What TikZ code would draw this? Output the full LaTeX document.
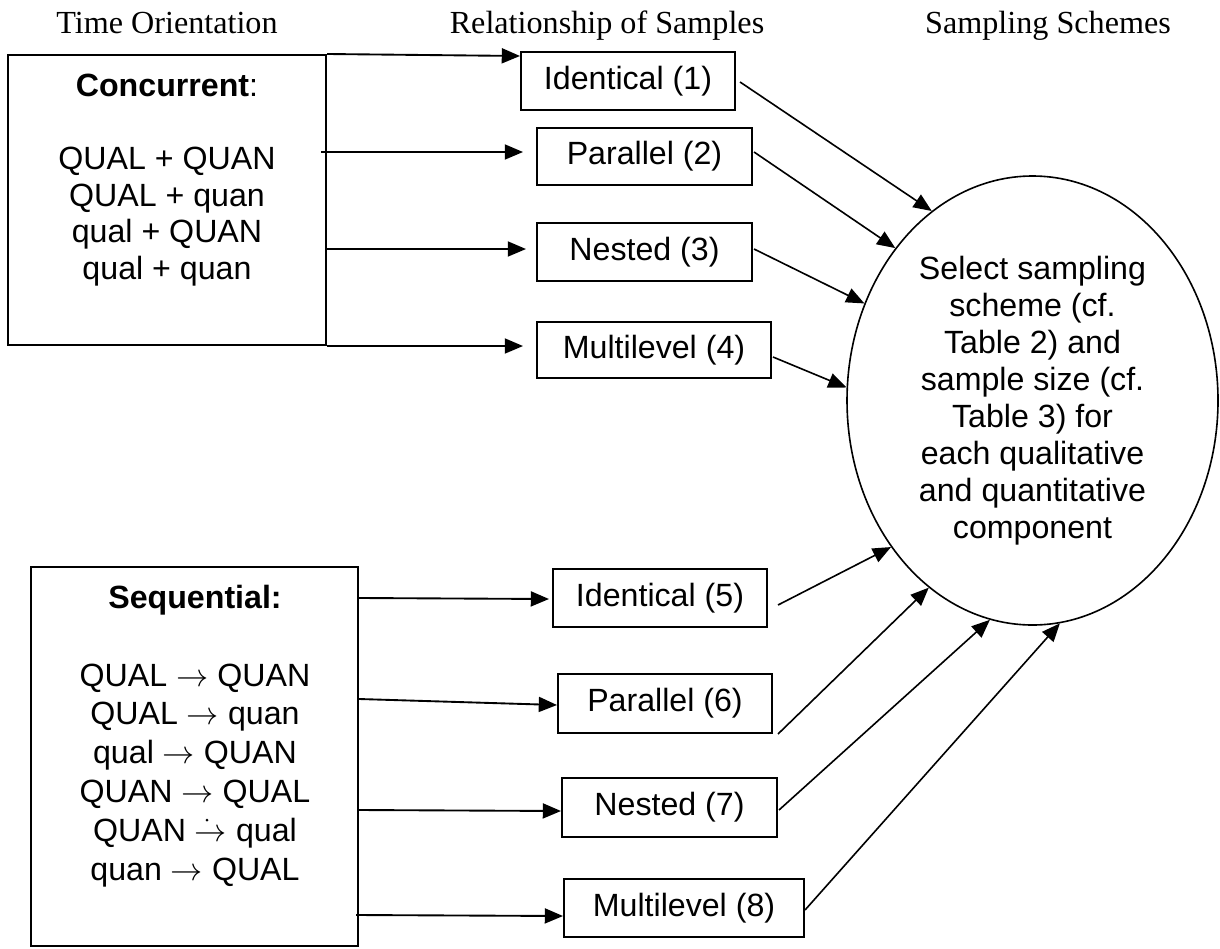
\documentclass[tikz,border=0pt]{standalone}
\usepackage{fontspec}
\setmainfont{Liberation Serif}
\newfontfamily\arialf{Liberation Sans}
\usetikzlibrary{arrows.meta,shapes.geometric,calc}
\newlength\pxu
\setlength\pxu{0.3731pt}
\begin{document}
\begin{tikzpicture}[x=0.3731pt,y=-0.3731pt,
  bx/.style={draw, line width=0.75pt, rectangle, inner sep=0pt,
    font=\arialf\fontsize{12}{13.8}\selectfont},
  txt/.style={inner sep=0pt, align=center},
  arr/.style={line width=0.7pt, -{Triangle[length=6.8pt,width=5.6pt]}},
  lnk/.style={line width=0.6pt, -{Triangle[length=6.8pt,width=5.6pt]}},
  hdr/.style={font=\fontsize{12}{14}\selectfont, anchor=base, inner sep=0pt}]
\useasboundingbox (0,0) rectangle (1220,948);

% headers
\node[hdr] (h1) at (167,33) {Time Orientation};
\node[hdr] (h2) at (607,33) {Relationship of Samples};
\node[hdr] (h3) at (1048,33) {Sampling Schemes};

% big boxes
\node[bx, minimum width=318*\pxu, minimum height=290*\pxu] (conc) at (167,200) {};
\node[txt, font=\arialf\fontsize{12}{13.7}\selectfont] (conctext) at (167,180)
  {\textbf{Concurrent}:\\[13.7pt]QUAL + QUAN\\QUAL + quan\\qual + QUAN\\qual + quan};
\node[bx, minimum width=327*\pxu, minimum height=379*\pxu] (seq) at (194.5,756.5) {};
\node[txt, font=\arialf\fontsize{12}{14.5}\selectfont] (seqtext) at (195,736)
  {\textbf{Sequential:}\\[14.5pt]QUAL $\rightarrow$ QUAN\\QUAL $\rightarrow$ quan\\qual $\rightarrow$ QUAN\\QUAN $\rightarrow$ QUAL\\QUAN $\rightarrow$ qual\\quan $\rightarrow$ QUAL};
\fill (207,820) circle[radius=1.5];

% relationship boxes
\node[bx, minimum width=214*\pxu, minimum height=58*\pxu] (id1) at (628,81) {Identical (1)};
\node[bx, minimum width=215*\pxu, minimum height=57*\pxu] (par2) at (644.5,156.5) {Parallel (2)};
\node[bx, minimum width=215*\pxu, minimum height=58*\pxu] (nes3) at (644.5,252) {Nested (3)};
\node[bx, minimum width=234*\pxu, minimum height=56*\pxu] (mul4) at (654,350) {Multilevel (4)};
\node[bx, minimum width=214*\pxu, minimum height=58*\pxu] (id5) at (660,598) {Identical (5)};
\node[bx, minimum width=214*\pxu, minimum height=59*\pxu] (par6) at (665,703.5) {Parallel (6)};
\node[bx, minimum width=215*\pxu, minimum height=59*\pxu] (nes7) at (669.5,807.5) {Nested (7)};
\node[bx, minimum width=240*\pxu, minimum height=58*\pxu] (mul8) at (684,908) {Multilevel (8)};

% ellipse
\node[ellipse, draw, line width=0.6pt, inner sep=0pt, align=center,
  minimum width=371*\pxu, minimum height=449*\pxu,
  font=\arialf\fontsize{12}{13.8}\selectfont] (ell) at (1032.5,400.5)
  {Select sampling\\scheme (cf.\\Table 2) and\\sample size (cf.\\Table 3) for\\each qualitative\\and quantitative\\component};

% connectors from time orientation boxes
\draw[arr] (conc.north east) -- ($(id1.north west)+(0,5)$);
\draw[arr] ($(conc.east)+(-6,-48)$) -- ($(par2.west)+(-13,-4.5)$);
\draw[arr] ($(conc.east)+(0,49)$) -- ($(nes3.west)+(-10,-3)$);
\draw[arr] (conc.south east) -- ($(mul4.west)+(-13,-4)$);
\draw[arr] ($(seq.north east)+(0,32)$) -- ($(id5.west)+(-3,1)$);
\draw[arr] ($(seq.north east)+(0,133)$) -- ($(par6.west)+(0,1.5)$);
\draw[arr] ($(seq.north east)+(-1,244)$) -- ($(nes7.west)+(0,3.5)$);
\draw[arr] ($(seq.north east)+(-3,349)$) -- ($(mul8.west)+(0,8)$);

% connectors to the ellipse
\draw[lnk] ($(id1.east)+(4,1)$) -- (ell.118.3);
\draw[lnk] ($(par2.east)+(1,-4.5)$) -- (ell.132.6);
\draw[lnk] ($(nes3.east)+(1,-3)$) -- (ell.150.2);
\draw[lnk] ($(mul4.east)+(1,7)$) -- (ell.176.8);
\draw[lnk] ($(id5.east)+(10,7)$) -- (ell.226.2);
\draw[lnk] ($(par6.east)+(5,30.5)$) -- (ell.241.8);
\draw[lnk] ($(nes7.east)+(1,2.5)$) -- (ell.259);
\draw[lnk] ($(mul8.east)+(0,2)$) -- (ell.277.8);
\end{tikzpicture}
\end{document}
